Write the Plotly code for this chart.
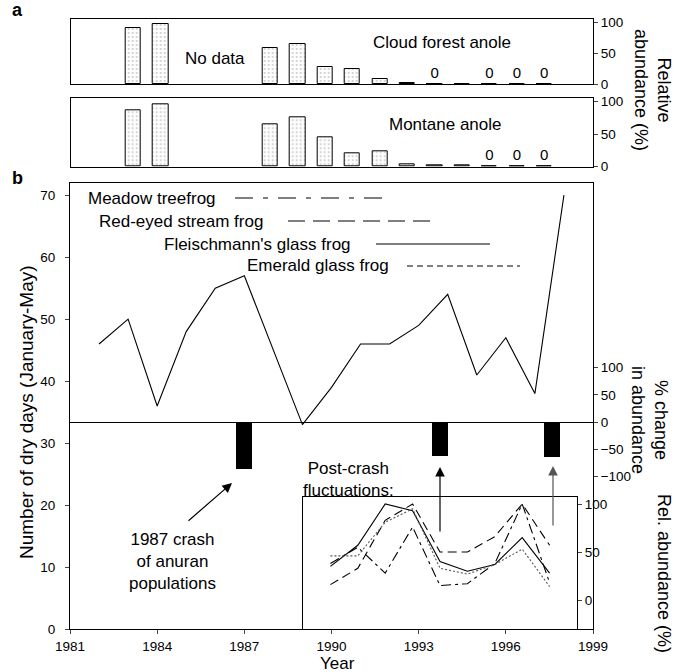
import plotly.graph_objects as go

W, H = 677, 672
def px(x): return x / W
def py(y): return 1 - y / H

FONT = "Liberation Sans"

# ---------------- data ----------------
dry_years = [1982, 1983, 1984, 1985, 1986, 1987, 1989, 1990, 1991, 1992,
             1993, 1994, 1995, 1996, 1997, 1998]
dry_days = [46, 50, 36, 48, 55, 57, 33, 39, 46, 46, 49, 54, 41, 47, 38, 70]

crash_years = [1987, 1993.73, 1997.59]
crash_pct = [-85, -62, -64]

anole_years = [1983, 1984, 1988, 1989, 1990, 1991, 1992, 1993, 1994, 1995,
               1996, 1997, 1998]
cloud_forest = [91, 97, 59, 64.5, 28, 25, 8, 1.5, 0, 1, 0, 0, 0]
montane = [86, 95, 65, 75.5, 45, 21, 23, 4, 2.5, 2, 0, 0, 0]

inset_years = [1990, 1991, 1992, 1993, 1994, 1995, 1996, 1997, 1998]
meadow = [38, 55, 28, 76, 15, 17, 38, 100, 18]
red_eyed = [16, 33, 83, 100, 50, 50, 66, 100, 57]
fleischmann = [35, 57, 100, 93, 40, 30, 37, 65, 28]
emerald = [46, 46, 81, 95, 33, 27, 37, 53, 14]

year_ticks = [1981, 1984, 1987, 1990, 1993, 1996, 1999]
dry_ticks = [0, 10, 20, 30, 40, 50, 60, 70]
pct_ticks = [-100, -50, 0, 50, 100]
rel_ticks = [0, 50, 100]

species = ["Meadow treefrog", "Red-eyed stream frog",
           "Fleischmann's glass frog", "Emerald glass frog"]
# --------------------------------------

fig = go.Figure()

fig.add_trace(go.Scatter(x=dry_years, y=dry_days, mode="lines",
                         line=dict(color="black", width=1.1),
                         xaxis="x", yaxis="y", showlegend=False))
fig.add_trace(go.Bar(x=crash_years, y=crash_pct, width=0.54,
                     marker=dict(color="black", line=dict(width=0)),
                     xaxis="x", yaxis="y2", showlegend=False))

pat = dict(shape=".", fgcolor="#a8a8a8", bgcolor="white", size=4, solidity=0.25)
for vals, xa, ya in [(cloud_forest, "x4", "y4"), (montane, "x5", "y5")]:
    fig.add_trace(go.Bar(x=anole_years, y=vals, width=0.55,
                         marker=dict(color="white", pattern=pat,
                                     line=dict(color="black", width=1)),
                         xaxis=xa, yaxis=ya, showlegend=False))
    zx = [yr for yr, v in zip(anole_years, vals) if v == 0]
    fig.add_trace(go.Scatter(x=zx, y=[16] * len(zx), mode="text",
                             text=["0"] * len(zx),
                             textfont=dict(family=FONT, size=15, color="black"),
                             xaxis=xa, yaxis=ya, showlegend=False))

dash_meadow, dash_red, dash_em = "10px,4px,3px,4px", "9px,5px", "2px,2px"
for vals, d, col in [(meadow, dash_meadow, "black"),
                     (red_eyed, dash_red, "black"),
                     (fleischmann, "solid", "black"),
                     (emerald, dash_em, "#555555")]:
    fig.add_trace(go.Scatter(x=inset_years, y=vals, mode="lines",
                             line=dict(color=col, width=1.1, dash=d),
                             xaxis="x3", yaxis="y3", showlegend=False))

tickfont = dict(family=FONT, size=13.5, color="black")
axline = dict(showline=True, linecolor="black", linewidth=1, showgrid=False,
              zeroline=False, automargin=False)

y_top, y_bot = 182.7, 629.3
fig.update_layout(
    xaxis=dict(domain=[px(70), px(593)], range=[1981, 1999], tickvals=year_ticks,
               ticks="outside", ticklen=4, tickfont=tickfont, mirror=True,
               anchor="y", ticklabelstandoff=0, **axline),
    yaxis=dict(domain=[py(y_bot), py(y_top)], range=[0, 72], tickvals=dry_ticks,
               ticks="outside", ticklen=4, tickfont=tickfont, mirror=True,
               anchor="x", ticklabelstandoff=7, **axline),
)
z0 = 422.0
u = 50 / 27.2
fig.update_layout(
    yaxis2=dict(overlaying="y", side="right", anchor="x",
                range=[-(y_bot - z0) * u, (z0 - y_top) * u],
                tickvals=pct_ticks, ticks="outside", ticklen=4,
                tickfont=tickfont, showline=False, showgrid=False,
                zeroline=True, zerolinecolor="black", zerolinewidth=1,
                automargin=False),
)
in_top, in_l, in_r = 497, 303, 577
r0, rpx = 600.0, 0.96
fig.update_layout(
    xaxis3=dict(domain=[px(in_l), px(in_r)], range=[1989, 1999], anchor="y3",
                showticklabels=False, ticks="", mirror=True, **axline),
    yaxis3=dict(domain=[py(y_bot), py(in_top)],
                range=[-(y_bot - r0) / rpx, (r0 - in_top) / rpx],
                side="right", anchor="x3", tickvals=rel_ticks, ticks="outside",
                ticklen=4, tickfont=tickfont, mirror=True, **axline),
)
a_x = [1983 - (133.3 - 70.7) / 27.4, 1983 + (593 - 133.3) / 27.4]
for n, top, bot, s100 in [(4, 19, 84.3, 62.0), (5, 98.3, 166.7, 65.3)]:
    fig.update_layout(**{
        f"xaxis{n}": dict(domain=[px(70.7), px(593)], range=a_x, anchor=f"y{n}",
                          showticklabels=False, ticks="", mirror=True, **axline),
        f"yaxis{n}": dict(domain=[py(bot), py(top)],
                          range=[0, (bot - top) / s100 * 100], side="right",
                          anchor=f"x{n}", tickvals=rel_ticks, ticks="outside",
                          ticklen=4, tickfont=tickfont, mirror=True, **axline),
    })

shapes = []
leg = [(species[0], 152, 198, 235, 385, "18px,10px,5px,10px"),
       (species[1], 181, 221, 288, 437, "17px,8px"),
       (species[2], 257, 244, 376, 490, "solid"),
       (species[3], 318, 266, 407, 520, "6px,4px")]
ann = []
txtfont = dict(family=FONT, size=17, color="black")
for name, cx, cy, x0, x1, d in leg:
    shapes.append(dict(type="line", xref="paper", yref="paper",
                       x0=px(x0), x1=px(x1), y0=py(cy), y1=py(cy),
                       line=dict(color="black", width=1.2, dash=d)))
    ann.append(dict(text=name, x=px(cx), y=py(cy), xref="paper", yref="paper",
                    showarrow=False, font=txtfont, xanchor="center", yanchor="middle"))

def label(t, x, y, size=17, angle=0, **kw):
    ann.append(dict(text=t, x=px(x), y=py(y), xref="paper", yref="paper",
                    showarrow=False, textangle=angle,
                    font=dict(family=FONT, size=size, color="black"),
                    xanchor="center", yanchor="middle", **kw))

label("No data", 215, 58.5)
label("Cloud forest anole", 442, 42)
label("Montane anole", 445, 124)
label("1987 crash<br>of anuran<br>populations", 172, 561)
label("Post-crash<br>fluctuations:", 348, 479)
label("Number of dry days (January-May)", 26, 412, size=19, angle=-90)
label("Year", 337, 663, size=17)
label("Relative<br>abundance (%)", 652, 90, size=18, angle=90)
label("% change<br>in abundance", 650, 420, size=18, angle=90)
label("Rel. abundance (%)", 664, 573, size=18, angle=90)
label("<b>a</b>", 17, 10, size=18)
label("<b>b</b>", 17, 178, size=18)

for (tx, ty, ax, ay, col) in [(232, 483, -45, 39, "black"),
                              (440, 467, 0, 66, "black"),
                              (553, 466, 0, 61, "#555555")]:
    ann.append(dict(text="", x=px(tx), y=py(ty), xref="paper", yref="paper",
                    ax=ax, ay=ay, showarrow=True, arrowhead=2, arrowsize=1.6,
                    arrowwidth=1.2, arrowcolor=col, standoff=0))

fig.update_layout(width=W, height=H, margin=dict(l=0, r=0, t=0, b=0, pad=0),
                  paper_bgcolor="white", plot_bgcolor="white",
                  shapes=shapes, annotations=ann, bargap=0,
                  font=dict(family=FONT, color="black"))

fig.write_html("out.html")
